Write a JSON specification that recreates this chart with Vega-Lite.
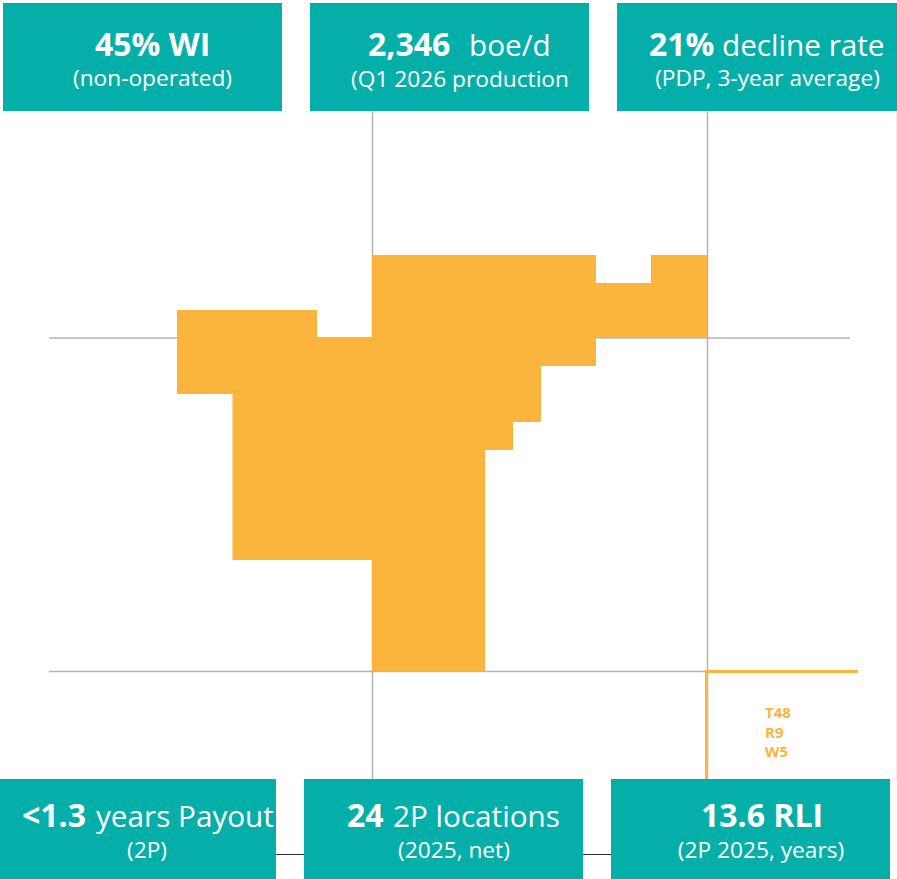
{
"$schema":"https://vega.github.io/schema/vega-lite/v6.json",
"width":897,"height":879,"padding":0,"autosize":{"type":"none"},
"background":"white",
"view":{"stroke":null},
"datasets":{
"grid":[{"x":49,"x2":850,"y":338,"y2":338},{"x":49,"x2":707,"y":671.5,"y2":671.5},{"x":372.5,"x2":372.5,"y":111,"y2":779},{"x":707.5,"x2":707.5,"y":111,"y2":779}],
"edge":[{"x":896.5,"x2":896.5,"y":111,"y2":779}],
"links":[{"x":276,"x2":304,"y":854.5,"y2":854.5},{"x":583,"x2":611,"y":854.5,"y2":854.5}],
"tracts":[
{"x":372,"x2":596,"y":255,"y2":338},{"x":596,"x2":651,"y":283,"y2":338},{"x":651,"x2":707,"y":255,"y2":338},
{"x":177,"x2":317,"y":310,"y2":394},{"x":317,"x2":372,"y":337,"y2":394},{"x":372,"x2":596,"y":338,"y2":366},
{"x":232.5,"x2":541,"y":366,"y2":422},{"x":232.5,"x2":513,"y":422,"y2":450},{"x":232.5,"x2":485,"y":450,"y2":560},{"x":372,"x2":485,"y":560,"y2":671.5}],
"bracket":[{"x":705,"x2":858,"y":671.5,"y2":671.5},{"x":706.5,"x2":706.5,"y":671.5,"y2":779}],
"boxes":[{"x":3,"x2":282,"y":3,"y2":111},{"x":310,"x2":589,"y":3,"y2":111},{"x":617,"x2":897,"y":3,"y2":111},{"x":0,"x2":276,"y":779,"y2":879},{"x":304,"x2":583,"y":779,"y2":879},{"x":611,"x2":890,"y":779,"y2":879}],
"bold":[{"x":95,"y":56,"t":"45% WI"},{"x":368,"y":56,"t":"2,346"},{"x":649,"y":56,"t":"21%"},{"x":22,"y":827,"t":"<1.3"},{"x":347,"y":827,"t":"24"},{"x":701,"y":827,"t":"13.6 RLI"}],
"regular":[{"x":469,"y":56,"t":"boe/d"},{"x":722,"y":56,"t":"decline rate"},{"x":96,"y":827,"t":"years Payout"},{"x":393,"y":827,"t":"2P locations"}],
"subs":[{"x":152.5,"y":86,"t":"(non-operated)"},{"x":460,"y":87,"t":"(Q1 2026 production"},{"x":767.5,"y":86,"t":"(PDP, 3-year average)"},{"x":147,"y":858,"t":"(2P)"},{"x":454,"y":858,"t":"(2025, net)"},{"x":761,"y":858,"t":"(2P 2025, years)"}],
"tag":[{"x":765,"y":718,"t":"T48"},{"x":765,"y":738,"t":"R9"},{"x":765,"y":757,"t":"W5"}]
},
"encoding":{
"x":{"field":"x","type":"quantitative","scale":{"domain":[0,897],"nice":false,"zero":false},"axis":null},
"y":{"field":"y","type":"quantitative","scale":{"domain":[879,0],"nice":false,"zero":false},"axis":null}
},
"layer":[
{"data":{"name":"edge"},"mark":{"type":"rule","color":"#eeeeee","strokeWidth":1},"encoding":{"x2":{"field":"x2"},"y2":{"field":"y2"}}},
{"data":{"name":"grid"},"mark":{"type":"rule","color":"#b3b3b3","strokeWidth":1.5},"encoding":{"x2":{"field":"x2"},"y2":{"field":"y2"}}},
{"data":{"name":"links"},"mark":{"type":"rule","color":"#333333","strokeWidth":1},"encoding":{"x2":{"field":"x2"},"y2":{"field":"y2"}}},
{"data":{"name":"tracts"},"mark":{"type":"rect","color":"#fbb43c"},"encoding":{"x2":{"field":"x2"},"y2":{"field":"y2"}}},
{"data":{"name":"bracket"},"mark":{"type":"rule","color":"#fbb43c","strokeWidth":3},"encoding":{"x2":{"field":"x2"},"y2":{"field":"y2"}}},
{"data":{"name":"boxes"},"mark":{"type":"rect","color":"#05afa9"},"encoding":{"x2":{"field":"x2"},"y2":{"field":"y2"}}},
{"data":{"name":"bold"},"mark":{"type":"text","font":"Open Sans","fontWeight":"bold","fontSize":32,"color":"white","align":"left","baseline":"alphabetic"},"encoding":{"text":{"field":"t"}}},
{"data":{"name":"regular"},"mark":{"type":"text","font":"Open Sans","fontSize":29.7,"color":"white","align":"left","baseline":"alphabetic"},"encoding":{"text":{"field":"t"}}},
{"data":{"name":"subs"},"mark":{"type":"text","font":"Open Sans","fontSize":22.7,"color":"white","align":"center","baseline":"alphabetic"},"encoding":{"text":{"field":"t"}}},
{"data":{"name":"tag"},"mark":{"type":"text","font":"Open Sans","fontWeight":"bold","fontSize":15,"color":"#fbb43c","align":"left","baseline":"alphabetic"},"encoding":{"text":{"field":"t"}}}
]
}
